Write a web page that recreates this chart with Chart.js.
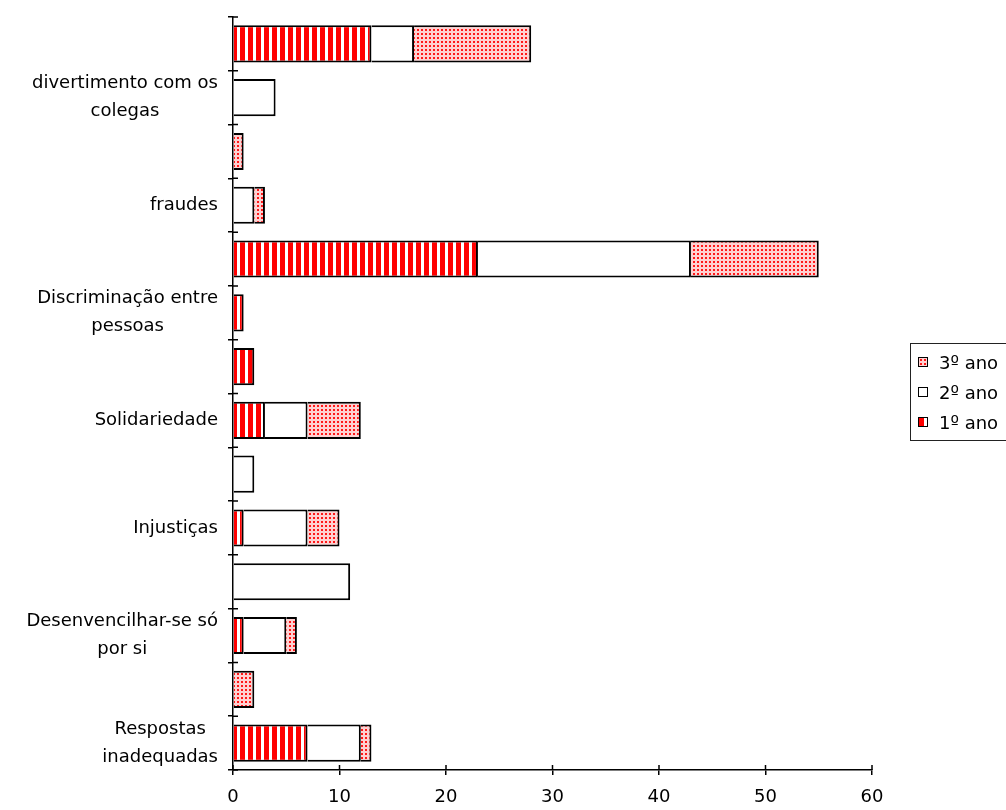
<!DOCTYPE html>
<html>
<head>
<meta charset="utf-8">
<script src="https://cdn.jsdelivr.net/npm/chart.js@4"></script>
<style>
  html, body { margin: 0; padding: 0; background: #fff; overflow: hidden; }
  #wrap { position: relative; width: 1006px; height: 810px; }
  #legend { position: absolute; left: 910px; top: 343px; width: 130px; border: 1.5px solid #222; background: #fff; padding: 3px 0; font: 18px "DejaVu Sans"; color: #000; }
  #legend ul { list-style: none; margin: 0; padding: 0; }
  #legend li { display: flex; align-items: center; height: 30px; padding-left: 7px; white-space: nowrap; }
  #legend canvas { border: 1px solid #000; margin-right: 11px; }
</style>
</head>
<body>
<div id="wrap">
  <canvas id="chart" width="1006" height="810"></canvas>
  <div id="legend"></div>
</div>
<script>
// categories, top to bottom (only every other one has a label)
const categories = [
    '',
    ['divertimento com os', 'colegas'],
    '',
    'fraudes',
    '',
    ['Discriminação entre', 'pessoas'],
    '',
    'Solidariedade',
    '',
    'Injustiças',
    '',
    ['Desenvencilhar-se só', 'por si'],
    '',
    ['Respostas', 'inadequadas']
];

const ano1 = [13, 0, 0, 0, 23, 1, 2, 3, 0, 1, 0, 1, 0, 7];
const ano2 = [4, 4, 0, 2, 20, 0, 0, 4, 2, 6, 11, 4, 0, 5];
const ano3 = [11, 0, 1, 1, 12, 0, 0, 5, 0, 3, 0, 1, 2, 1];

const seriesNames = ['1º ano', '2º ano', '3º ano'];
const xTicks = [0, 10, 20, 30, 40, 50, 60];

const FONT = '"DejaVu Sans"';

// fill patterns like the old spreadsheet hatching
function makeTile(kind) {
    const tile = document.createElement('canvas');
    const c = tile.getContext('2d');
    if (kind === 'stripes') {
        tile.width = 8; tile.height = 8;
        c.fillStyle = '#fff'; c.fillRect(0, 0, 8, 8);
        c.fillStyle = '#ff0000'; c.fillRect(0, 0, 5, 8);
    } else if (kind === 'dots') {
        tile.width = 4; tile.height = 4;
        c.fillStyle = '#ffd0d0'; c.fillRect(0, 0, 4, 4);
        c.fillStyle = '#ff1818'; c.fillRect(1, 1, 2, 2);
    } else {
        tile.width = 4; tile.height = 4;
        c.fillStyle = '#fff'; c.fillRect(0, 0, 4, 4);
    }
    return tile;
}
const fills = ['stripes', 'plain', 'dots'];

const canvas = document.getElementById('chart');
const ctx = canvas.getContext('2d');

// y labels: block right-aligned, lines centred inside the block
const yLabelPlugin = {
    id: 'yLabels',
    afterDraw(chart) {
        const scale = chart.scales.y;
        const c = chart.ctx;
        const lineHeight = 28;
        c.save();
        c.font = '18px ' + FONT;
        c.fillStyle = '#000';
        c.textAlign = 'center';
        c.textBaseline = 'middle';
        const right = scale.right - 15;
        categories.forEach((label, i) => {
            const lines = Array.isArray(label) ? label : [label];
            if (!lines[0]) return;
            const w = Math.max(...lines.map(l => c.measureText(l).width));
            const cx = right - w / 2;
            const cy = scale.getPixelForValue(i);
            lines.forEach((line, k) => {
                c.fillText(line, cx, cy + (k - (lines.length - 1) / 2) * lineHeight);
            });
        });
        c.restore();
    }
};

// tick marks that cross into the plot area
const crossTicksPlugin = {
    id: 'crossTicks',
    afterDraw(chart) {
        const c = chart.ctx;
        const x = chart.scales.x;
        const y = chart.scales.y;
        c.save();
        c.strokeStyle = '#000';
        c.lineWidth = 1.5;
        c.beginPath();
        for (let i = 0; i <= categories.length; i++) {
            const py = y.getPixelForValue(i - 0.5);
            c.moveTo(y.right, py);
            c.lineTo(y.right + 5, py);
        }
        x.ticks.forEach(t => {
            const px = x.getPixelForValue(t.value);
            c.moveTo(px, x.top);
            c.lineTo(px, x.top - 5);
        });
        c.stroke();
        c.restore();
    }
};

const htmlLegendPlugin = {
    id: 'htmlLegend',
    afterUpdate(chart) {
        const box = document.getElementById('legend');
        box.innerHTML = '';
        const ul = document.createElement('ul');
        chart.data.datasets.slice().reverse().forEach(ds => {
            const li = document.createElement('li');
            const sw = document.createElement('canvas');
            sw.width = 8; sw.height = 8;
            const sc = sw.getContext('2d');
            sc.fillStyle = sc.createPattern(makeTile(ds.fillKind), 'repeat');
            sc.fillRect(0, 0, 8, 8);
            const span = document.createElement('span');
            span.textContent = ds.label;
            li.appendChild(sw);
            li.appendChild(span);
            ul.appendChild(li);
        });
        box.appendChild(ul);
    }
};

const seriesData = [ano1, ano2, ano3];

const chart = new Chart(ctx, {
    type: 'bar',
    data: {
        labels: categories,
        datasets: seriesNames.map((name, i) => ({
            label: name,
            data: seriesData[i],
            fillKind: fills[i],
            backgroundColor: ctx.createPattern(makeTile(fills[i]), 'repeat'),
            borderColor: '#000',
            borderWidth: 2,
            borderSkipped: 'start', // left edge is the previous segment's right edge
            barPercentage: 0.69,
            categoryPercentage: 1
        }))
    },
    options: {
        indexAxis: 'y',
        responsive: false,
        animation: false,
        layout: { padding: { left: 0, right: 134, top: 17, bottom: 0 } },
        plugins: {
            legend: { display: false },
            tooltip: { enabled: false }
        },
        scales: {
            x: {
                stacked: true,
                min: 0,
                max: 60,
                afterBuildTicks(scale) { scale.ticks = xTicks.map(v => ({ value: v })); },
                ticks: { color: '#000', font: { family: FONT, size: 18 }, padding: 12, maxRotation: 0 },
                grid: { drawOnChartArea: false, drawTicks: true, tickLength: 5, color: '#000', lineWidth: 1.5 },
                border: { color: '#000', width: 1.5 },
                afterFit(scale) { scale.height = 40; }
            },
            y: {
                stacked: true,
                ticks: { display: false },
                grid: { offset: true, drawOnChartArea: false, drawTicks: true, tickLength: 5, color: '#000', lineWidth: 1.5 },
                border: { color: '#000', width: 1.5 },
                afterFit(scale) { scale.width = 233; }
            }
        }
    },
    plugins: [yLabelPlugin, crossTicksPlugin, htmlLegendPlugin]
});
</script>
</body>
</html>
